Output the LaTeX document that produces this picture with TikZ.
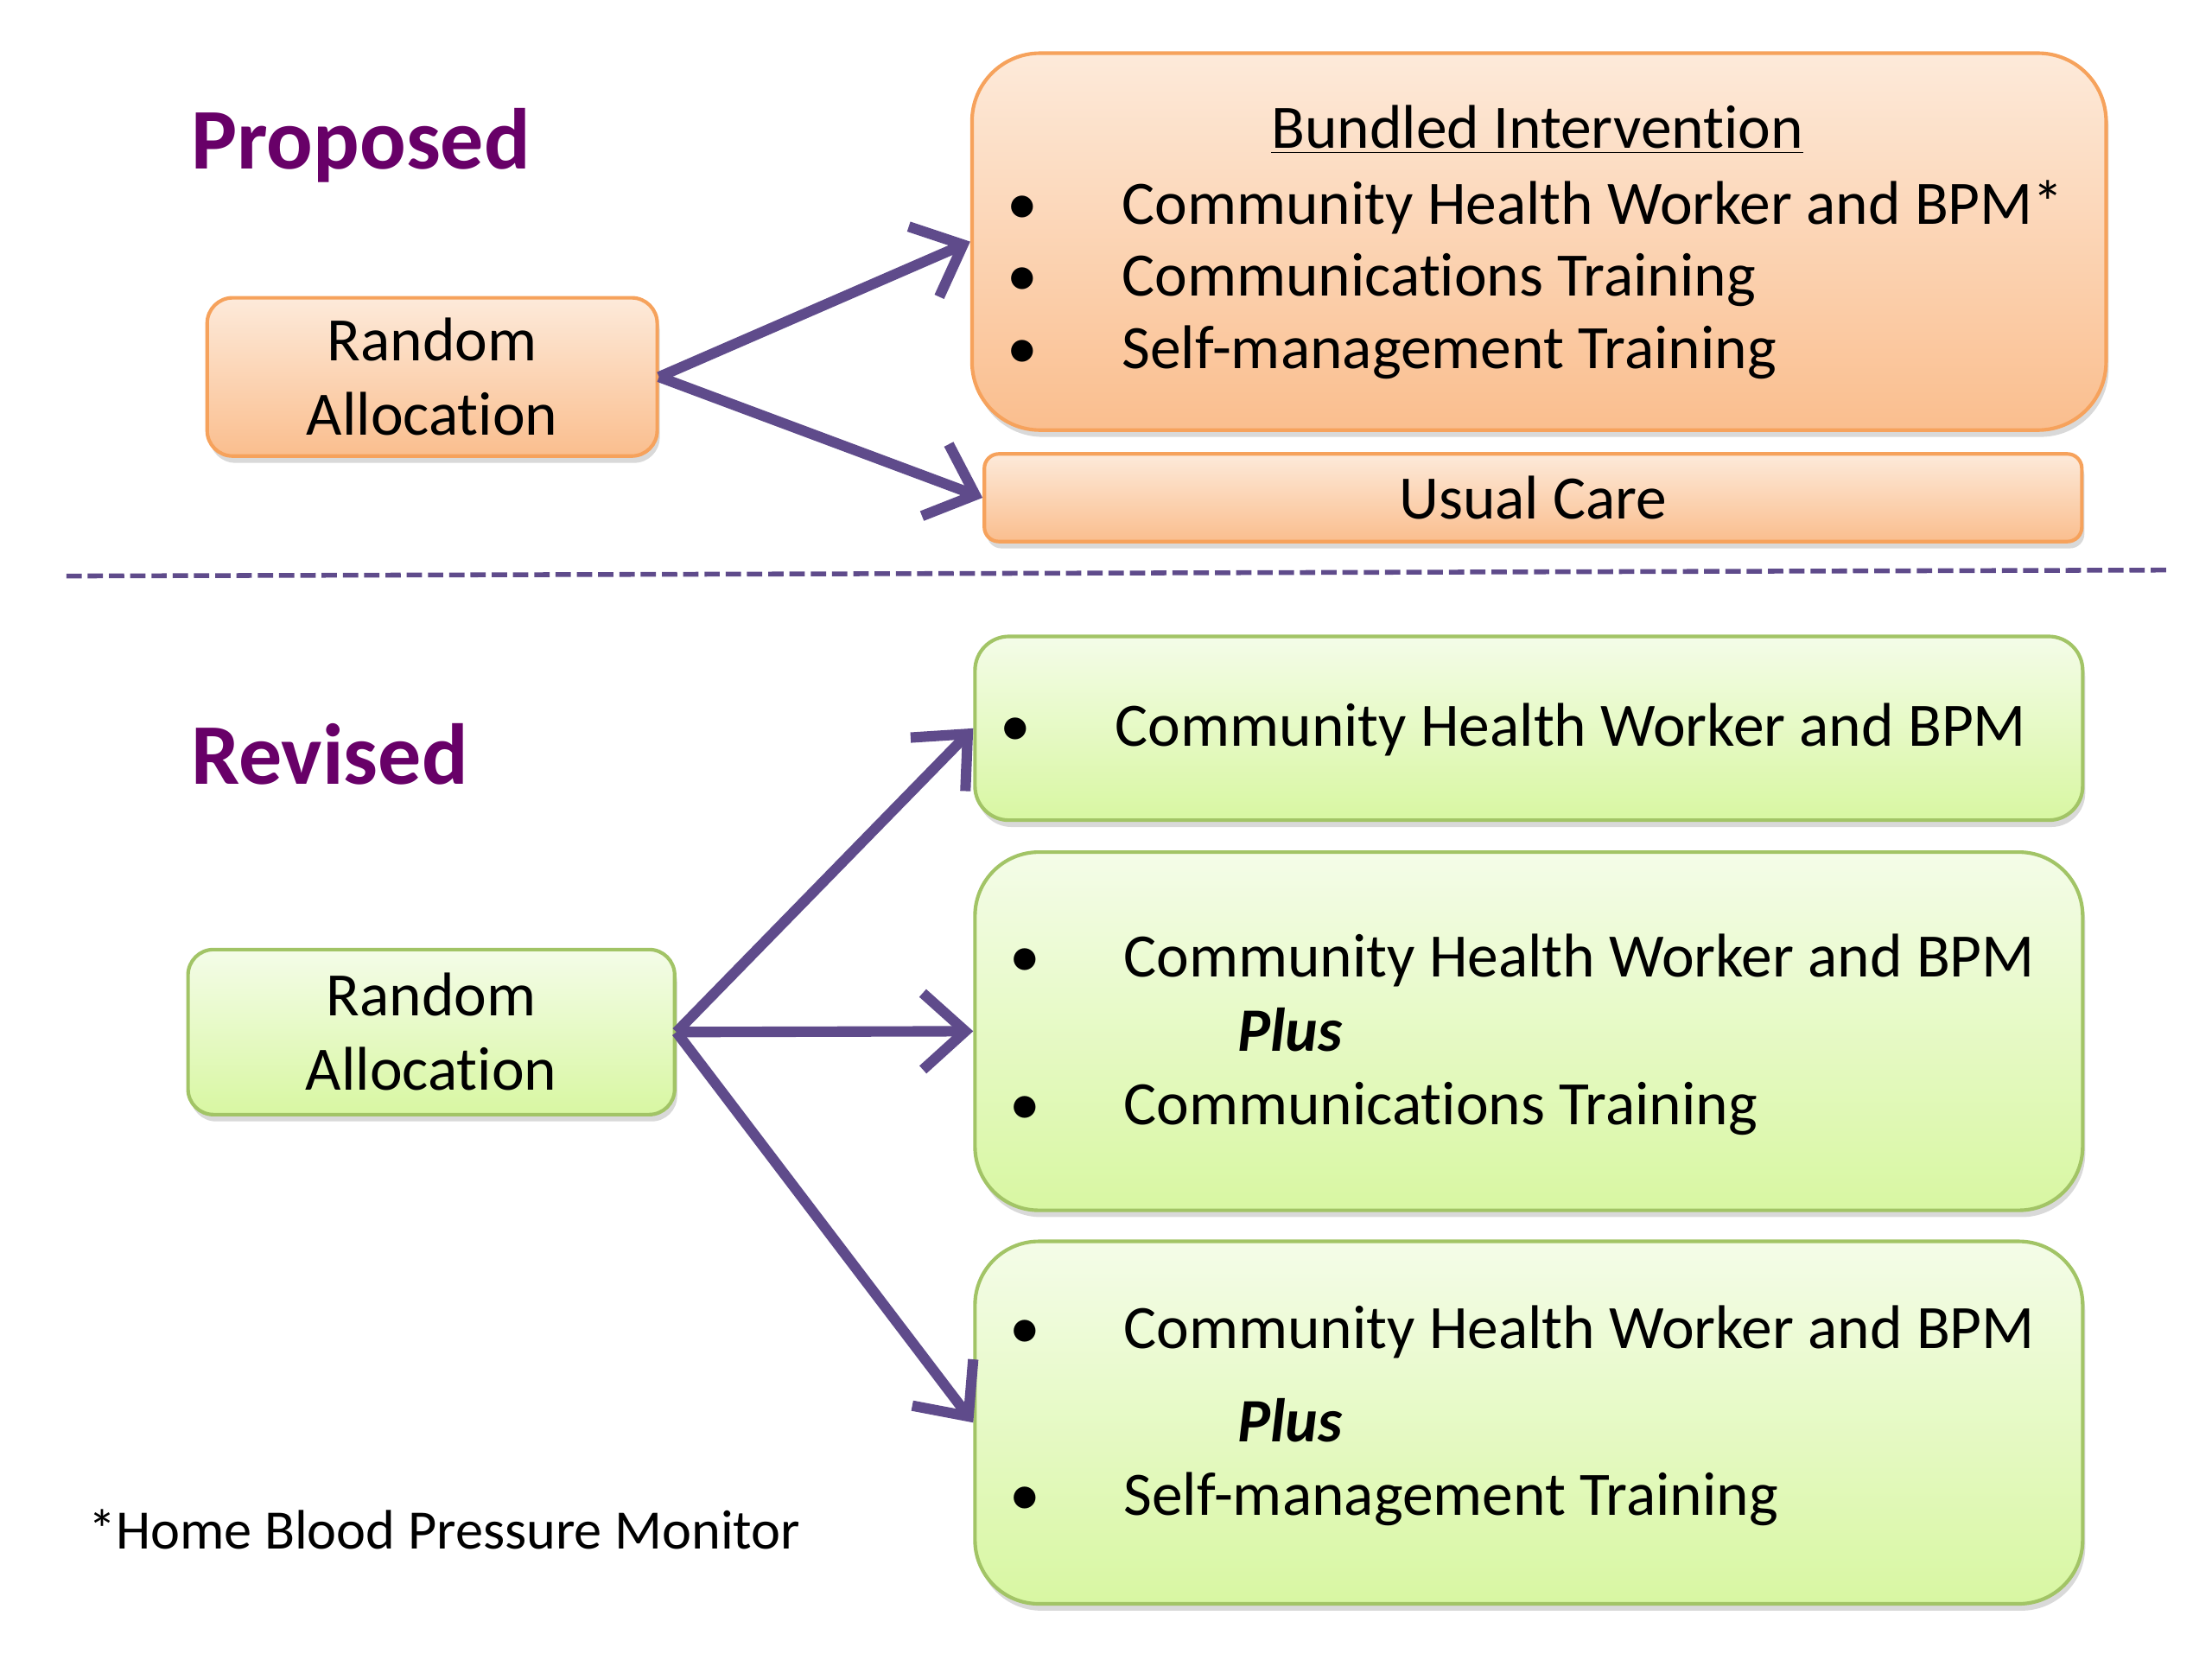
\documentclass[tikz,border=0pt]{standalone}
\usepackage{fontspec}
\setmainfont{Carlito}[Ligatures=NoCommon]
\usetikzlibrary{arrows.meta,shadows}
\definecolor{otop}{RGB}{253,234,218}
\definecolor{obot}{RGB}{250,190,142}
\definecolor{oline}{RGB}{246,162,92}
\definecolor{gtop}{RGB}{244,252,232}
\definecolor{gbot}{RGB}{216,247,162}
\definecolor{gline}{RGB}{162,196,102}
\definecolor{arrowc}{RGB}{95,75,139}
\definecolor{headc}{RGB}{104,0,104}
\newcommand{\bodyfont}{\fontsize{20.65}{24.8}\selectfont}
\newcommand{\headfont}{\fontsize{28.9}{34}\selectfont\bfseries}
\newcommand{\footfont}{\fontsize{18.6}{22}\selectfont}
\begin{document}
\begin{tikzpicture}[
    box/.style={inner sep=0pt,line width=1.2pt,font=\bodyfont,align=center,
      drop shadow={shadow xshift=0.03cm,shadow yshift=-0.08cm,opacity=0.3}},
    obox/.style={box,draw=oline,top color=otop,bottom color=obot},
    gbox/.style={box,draw=gline,top color=gtop,bottom color=gbot},
    txt/.style={anchor=base west,inner sep=0pt,font=\bodyfont},
    dot/.style={anchor=base,inner sep=0pt,font=\bodyfont},
    head/.style={anchor=base west,inner sep=0pt,font=\headfont,text=headc},
    arr/.style={draw=arrowc,line width=3.5pt,-{Straight Barb[length=0.5cm,width=0.9cm]}}]
    \useasboundingbox (0,0) rectangle (26,19.5);
    \begin{scope}
      \node[head] (prop) at (2.24,17.51) {Proposed};
      \node[obox,rounded corners=0.3cm,minimum width=5.29cm,minimum height=1.86cm] (ra1) at (5.08,15.07) {Random\\Allocation};
      \node[obox,rounded corners=0.8cm,minimum width=13.33cm,minimum height=4.43cm] (bi) at (18.09,16.66) {};
      \node[obox,rounded corners=0.17cm,minimum width=12.9cm,minimum height=1.03cm] (uc) at (18.02,13.65) {Usual Care};
      \node[txt,anchor=base] (bt) at (18.07,17.76) {\underline{Bundled Intervention}};
      \node[dot] (bd1) at (12.02,16.86) {\textbullet};
      \node[txt] (bl1) at (13.18,16.86) {Community Health Worker and BPM*};
      \node[dot] (bd2) at (12.02,16.02) {\textbullet};
      \node[txt] (bl2) at (13.18,16.02) {Communications Training};
      \node[dot] (bd3) at (12.02,15.17) {\textbullet};
      \node[txt] (bl3) at (13.18,15.17) {Self-management Training};
      \draw[arr] (ra1.east) -- (bi.west);
      \draw[arr] (ra1.east) -- (uc.west);
    \end{scope}
    \coordinate (dl) at (0.78,12.73);
    \coordinate (dr) at (25.49,12.8);
    \draw[arrowc,line width=1.6pt,dash pattern=on 0.18cm off 0.07cm] (dl) -- (dr);
    \begin{scope}
      \node[head] (rev) at (2.24,10.28) {Revised};
      \node[gbox,rounded corners=0.3cm,minimum width=5.72cm,minimum height=1.94cm] (ra2) at (5.07,7.37) {Random\\Allocation};
      \node[gbox,rounded corners=0.4cm,minimum width=13.02cm,minimum height=2.16cm] (g1) at (17.97,10.94) {};
      \node[gbox,rounded corners=0.75cm,minimum width=13.02cm,minimum height=4.21cm] (g2) at (17.97,7.38) {};
      \node[gbox,rounded corners=0.75cm,minimum width=13.02cm,minimum height=4.26cm] (g3) at (17.97,2.78) {};
      \node[dot] (gd1) at (11.94,10.73) {\textbullet};
      \node[txt] (gl1) at (13.1,10.73) {Community Health Worker and BPM};
      \node[dot] (gd2) at (12.05,8.02) {\textbullet};
      \node[txt] (gl2) at (13.2,8.02) {Community Health Worker and BPM};
      \node[txt] (gp2) at (14.54,7.15) {\textbf{\textit{Plus}}};
      \node[dot] (gd3) at (12.05,6.28) {\textbullet};
      \node[txt] (gl3) at (13.2,6.28) {Communications Training};
      \node[dot] (gd4) at (12.05,3.65) {\textbullet};
      \node[txt] (gl4) at (13.2,3.65) {Community Health Worker and BPM};
      \node[txt] (gp4) at (14.54,2.55) {\textbf{\textit{Plus}}};
      \node[dot] (gd5) at (12.05,1.69) {\textbullet};
      \node[txt] (gl5) at (13.2,1.69) {Self-management Training};
      \draw[arr] (ra2.east) -- (g1.west);
      \draw[arr] (ra2.east) -- (g2.west);
      \draw[arr] (ra2.east) -- (g3.west);
    \end{scope}
    \node[anchor=base west,inner sep=0pt,font=\footfont] (fn) at (1.03,1.3) {*Home Blood Pressure Monitor};
  \end{tikzpicture}
\end{document}
